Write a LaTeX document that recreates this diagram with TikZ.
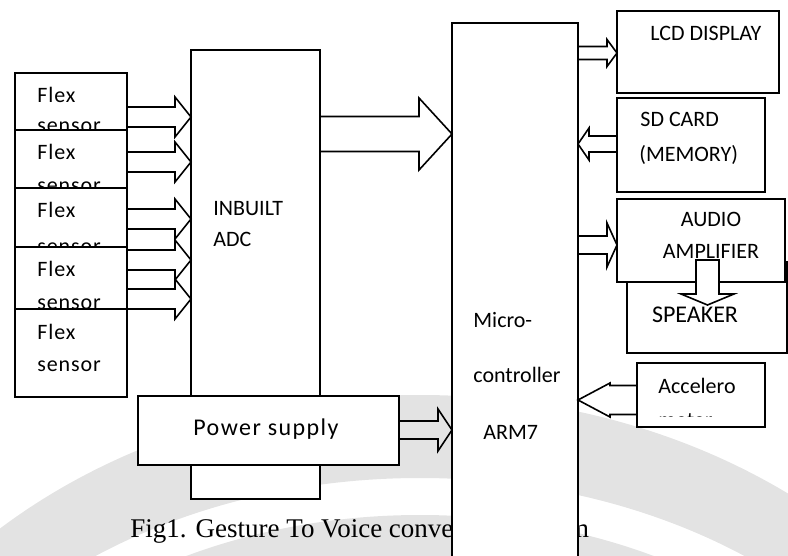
\documentclass[tikz,border=0pt]{standalone}
\usepackage{fontspec}
\setmainfont{Carlito}
\newfontfamily\capfont{Liberation Serif}
\usetikzlibrary{calc}

\tikzset{
  blk/.style={draw, fill=white, line width=1pt, inner sep=0pt, outer sep=0pt, anchor=north west},
  txt/.style={inner sep=0pt, anchor=base west, font=\fontsize{11}{13}\selectfont},
  wide/.style={font=\fontsize{11}{13}\selectfont\addfontfeature{LetterSpace=4}},
  arrowline/.style={line width=0.8pt, line join=miter},
}

% hollow block arrow: tail, tip, shaft half width, head half width, head length
\newcommand{\hollowarrow}[6][]{%
  \draw[arrowline,#1] ($(#2)+(0,-#4)$) -- ($(#3)+({-(#6)},-#4)$) -- ($(#3)+({-(#6)},-#5)$)
    -- (#3) -- ($(#3)+({-(#6)},#5)$) -- ($(#3)+({-(#6)},#4)$) -- ($(#2)+(0,#4)$);}

\begin{document}
\begin{tikzpicture}[x=0.5pt, y=-0.5pt]
    \clip (0,0) rectangle (788,556);
    % faint watermark
    \fill[black!11, even odd rule] (420,900) ellipse [x radius=620, y radius=505]
        (420,900) ellipse [x radius=560, y radius=422];
    \fill[black!11] (420,900) ellipse [x radius=520, y radius=385];

    % caption (partly hidden by the controller)
    \node[inner sep=0pt, anchor=base west, font=\capfont\fontsize{13.5}{16}\selectfont] (caption) at (130,537) {Fig1. Gesture To Voice conversion system};

    % Flex sensors
    \foreach \i/\t/\s in {1/73/60,2/130/62,3/188/66,4/247/62,5/309/62} {
        \node[blk, minimum width=56pt, minimum height=44pt] (fx\i) at (15,\t) {};
        \node[txt, wide] (fxa\i) at (37,\t+30) {Flex};
        \node[txt, wide] (fxb\i) at (37,\t+\s) {sensor};
    }

    % ADC
    \node[blk, minimum width=64.5pt, minimum height=224.5pt] (adc) at (191,50) {};
    \node[txt] (adcA) at (213,215) {INBUILT};
    \node[txt] (adcB) at (213,247) {ADC};

    % Power supply
    \node[blk, minimum width=130.5pt, minimum height=34.5pt] (power) at (138,396) {};
    \node[txt, font=\fontsize{12}{14}\selectfont\addfontfeature{LetterSpace=6}] (powerT) at (193,435) {Power supply};

    % Microcontroller
    \node[blk, minimum width=63pt, minimum height=273.5pt] (mcu) at (452,23) {};
    \node[txt] (mcuA) at (473,327) {Micro-};
    \node[txt] (mcuB) at (473,382) {controller};
    \node[txt] (mcuC) at (483,439) {ARM7};

    % right side blocks
    \node[blk, minimum width=81pt, minimum height=41pt] (lcd) at (617,11) {};
    \node[txt] (lcdT) at (650,41) {LCD DISPLAY};
    \node[blk, minimum width=74pt, minimum height=47pt] (sd) at (617,98) {};
    \node[txt] (sdA) at (640,127) {SD CARD};
    \node[txt] (sdB) at (639,162) {(MEMORY)};
    \node[blk, minimum width=80pt, minimum height=45.5pt] (spk) at (627,262) {};
    \node[txt, anchor=base, font=\fontsize{12}{14}\selectfont] (spkT) at (695,322) {SPEAKER};
    \node[blk, minimum width=84pt, minimum height=41.5pt] (audio) at (617,199) {};
    \node[txt, anchor=base] (audA) at (711,227) {AUDIO};
    \node[txt, anchor=base] (audB) at (711,258) {AMPLIFIER};
    \node[blk, minimum width=64pt, minimum height=32pt] (accel) at (637,363) {};
    \begin{scope}
        \clip (accel.north west) rectangle ($(accel.south east)+(0,-11)$);
        \node[txt] (accA) at (658,393) {Accelero};
        \node[txt] (accB) at (658,427) {meter};
    \end{scope}

    % arrows
    \foreach \i/\y in {1/117,2/162,3/219,4/260,5/299} {
        \coordinate (in\i) at (adc.west |- 0,\y);
        \hollowarrow{fx\i.east |- in\i}{in\i}{10}{20}{16}
    }
    \coordinate (adcout) at (mcu.west |- 0,134);
    \hollowarrow{adc.east |- adcout}{adcout}{17.5}{36}{33}
    \coordinate (pwrin) at (mcu.west |- 0,430);
    \hollowarrow{power.east |- pwrin}{pwrin}{9}{21}{14}
    \coordinate (lcdin) at (lcd.west |- 0,53);
    \hollowarrow{mcu.east |- lcdin}{lcdin}{6.5}{13.5}{10}
    \coordinate (sdout) at (mcu.east |- 0,144);
    \hollowarrow{sd.west |- sdout}{sdout}{8}{16}{-11}
    \coordinate (audin) at (audio.west |- 0,245);
    \hollowarrow{mcu.east |- audin}{audin}{9}{22}{10}
    \coordinate (accout) at (mcu.east |- 0,400);
    \hollowarrow{accel.west |- accout}{accout}{14.5}{17}{-32}

    % amplifier to speaker
    \coordinate (spkin) at (707.5,305);
    \coordinate (ampout) at (spkin |- 0,260);
    \draw[arrowline, fill=white] ($(ampout)+(-11.5,0)$) -- ($(spkin)+(-11.5,-11)$) -- ($(spkin)+(-26.5,-11)$)
        -- (spkin) -- ($(spkin)+(26.5,-11)$) -- ($(spkin)+(11.5,-11)$) -- ($(ampout)+(11.5,0)$) -- cycle;
\end{tikzpicture}
\end{document}
